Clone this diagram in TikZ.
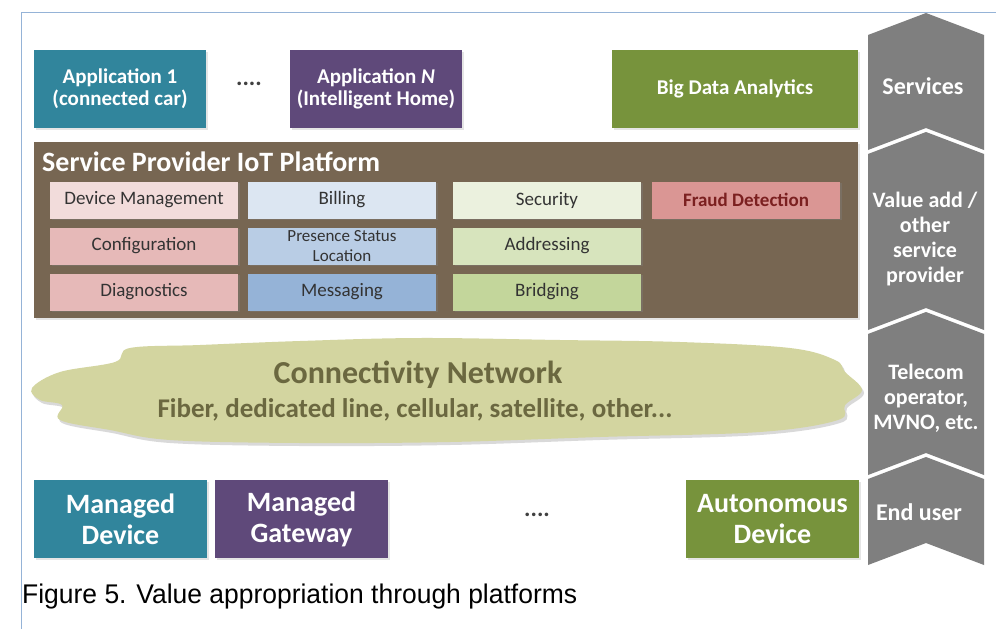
\documentclass[tikz,border=0pt]{standalone}
\usepackage{fontspec}
\usepackage{graphicx}
\setmainfont{Carlito}
\newfontfamily\capfont{Liberation Sans}
\usetikzlibrary{shadows}
\definecolor{teal1}{HTML}{31859C}
\definecolor{purp1}{HTML}{5F497A}
\definecolor{olive1}{HTML}{77933C}
\definecolor{brown1}{HTML}{776652}
\definecolor{chev}{HTML}{7F7F7F}
\definecolor{frameblue}{HTML}{95B3D7}
\definecolor{pinkA}{HTML}{F2DCDB}
\definecolor{pinkB}{HTML}{E6B9B8}
\definecolor{blueA}{HTML}{DCE6F2}
\definecolor{blueB}{HTML}{B9CDE5}
\definecolor{blueC}{HTML}{95B3D7}
\definecolor{greenA}{HTML}{EBF1DE}
\definecolor{greenB}{HTML}{D7E4BD}
\definecolor{greenC}{HTML}{C3D69B}
\definecolor{fraud}{HTML}{DA9694}
\definecolor{fraudtxt}{HTML}{7B2020}
\definecolor{cloudfill}{HTML}{D3D5A0}
\definecolor{cloudtxt}{HTML}{6B6840}
\definecolor{subtxt}{HTML}{333333}
\tikzset{
  bigbox/.style={draw=none, align=center, text=white, font=\bfseries\fontsize{21}{22}\selectfont,
    minimum width=172pt, minimum height=78pt, inner sep=0pt,
    drop shadow={opacity=0.2, shadow xshift=1.5pt, shadow yshift=-1.5pt}},
  devbox/.style={bigbox, font=\bfseries\fontsize{28}{31}\selectfont},
  subbox/.style={draw=none, align=center, text=subtxt, font=\fontsize{19}{20}\selectfont,
    minimum width=188pt, minimum height=37pt, inner sep=0pt,
    drop shadow={opacity=0.35, shadow xshift=1.5pt, shadow yshift=-1.5pt}},
  chevron/.style={fill=chev, draw=none},
  chevtext/.style={text=white, align=center, font=\bfseries\fontsize{22}{25}\selectfont},
  dots/.style={font=\bfseries\fontsize{24}{24}\selectfont, text=black!75}
}
\begin{document}
\begin{tikzpicture}[x=1pt,y=-1pt]
\useasboundingbox (0,0) rectangle (996,629);
\fill[white] (0,0) rectangle (996,629);
% frame
\draw[frameblue, line width=1pt] (21,629) -- (21,12) -- (996,12);

% chevrons
\fill[chevron] (868,35) -- (926,13) -- (984,35) -- (984,150) -- (926,128) -- (868,150) -- cycle;
\fill[chevron] (868,154) -- (926,132) -- (984,154) -- (984,330) -- (926,308) -- (868,330) -- cycle;
\fill[chevron] (868,334) -- (926,312) -- (984,334) -- (984,475) -- (926,453) -- (868,475) -- cycle;
\fill[chevron] (868,479) -- (926,457) -- (984,479) -- (984,565) -- (926,543) -- (868,565) -- cycle;
\node[chevtext, font=\bfseries\fontsize{24}{25}\selectfont] (csvc) at (923,86) {Services};
\node[chevtext] (cval) at (925,239) {Value add /\\other\\service\\provider};
\node[chevtext] (ctel) at (926,398) {Telecom\\operator,\\MVNO, etc.};
\node[chevtext, font=\bfseries\fontsize{24}{25}\selectfont] (cend) at (919,512) {End user};

% top row
\node[bigbox, fill=teal1] (app1) at (120,89) {Application 1\\(connected car)};
\node[dots] (dots1) at (249,84) {....};
\node[bigbox, fill=purp1] (appn) at (376,89) {Application \textit{N}\\(Intelligent Home)};
\node[bigbox, fill=olive1, minimum width=246pt] (bda) at (735,89) {Big Data Analytics};

% platform
\node[fill=brown1, minimum width=824pt, minimum height=176pt, inner sep=0pt,
  drop shadow={opacity=0.2, shadow xshift=1.5pt, shadow yshift=-1.5pt}] (plat) at (446,230) {};
\node[anchor=west, text=white, font=\bfseries\fontsize{28}{30}\selectfont, inner sep=0pt] (ptitle) at (42,162) {Service Provider IoT Platform};

\node[subbox, fill=pinkA] (devm) at (144,200) {Device Management};
\node[subbox, fill=pinkB] (conf) at (144,246) {Configuration};
\node[subbox, fill=pinkB] (diag) at (144,292) {Diagnostics};
\node[subbox, fill=blueA] (bill) at (342,200) {Billing};
\node[subbox, fill=blueB, font=\fontsize{17}{20}\selectfont] (pres) at (342,246) {Presence Status\\Location};
\node[subbox, fill=blueC] (msg) at (342,292) {Messaging};
\node[subbox, fill=greenA] (sec) at (547,200) {Security};
\node[subbox, fill=greenB] (addr) at (547,246) {Addressing};
\node[subbox, fill=greenC] (brdg) at (547,292) {Bridging};
\node[subbox, fill=fraud, text=fraudtxt, font=\bfseries\fontsize{19}{20}\selectfont] (frd) at (746,200) {Fraud Detection};

% cloud
\fill[black!15] plot[smooth cycle, tension=0.6] coordinates {
 (34,391) (62,375) (117,365) (132,351) (200,348) (300,344) (420,341) (560,343) (680,345) (790,351) (837,363) (847,375) (864,393) (847,408) (840,423) (760,435) (600,440) (450,445) (300,446) (170,443) (112,433) (62,423) (64,408) (42,403)};
\fill[cloudfill] plot[smooth cycle, tension=0.6] coordinates {
 (32,388) (60,372) (115,362) (130,348) (200,345) (300,341) (420,338) (560,340) (680,342) (790,348) (835,360) (845,372) (862,390) (845,405) (838,420) (760,432) (600,437) (450,442) (300,443) (170,440) (110,430) (60,420) (62,405) (40,400)};
\node[text=cloudtxt, font=\bfseries\fontsize{32}{34}\selectfont] (cn1) at (418,375) {Connectivity Network};
\node[text=cloudtxt, font=\bfseries\fontsize{27}{29}\selectfont] (cn2) at (415,410) {Fiber, dedicated line, cellular, satellite, other...};

% bottom row
\node[devbox, fill=teal1, minimum width=173pt] (mdev) at (120.5,519) {Managed\\Device};
\node[devbox, fill=purp1, minimum width=173pt] (mgw) at (301.5,519) {Managed\\Gateway};
\node[dots] (dots2) at (537,515) {....};
\node[devbox, fill=olive1, minimum width=173pt] (adev) at (772.5,519) {Autonomous\\Device};

% caption
\node[anchor=base west, inner sep=0pt, text=black] (cap) at (22,603)
  {\scalebox{0.98}[1]{\capfont\fontsize{27}{30}\selectfont Figure 5. Value appropriation through platforms}};
\end{tikzpicture}
\end{document}
